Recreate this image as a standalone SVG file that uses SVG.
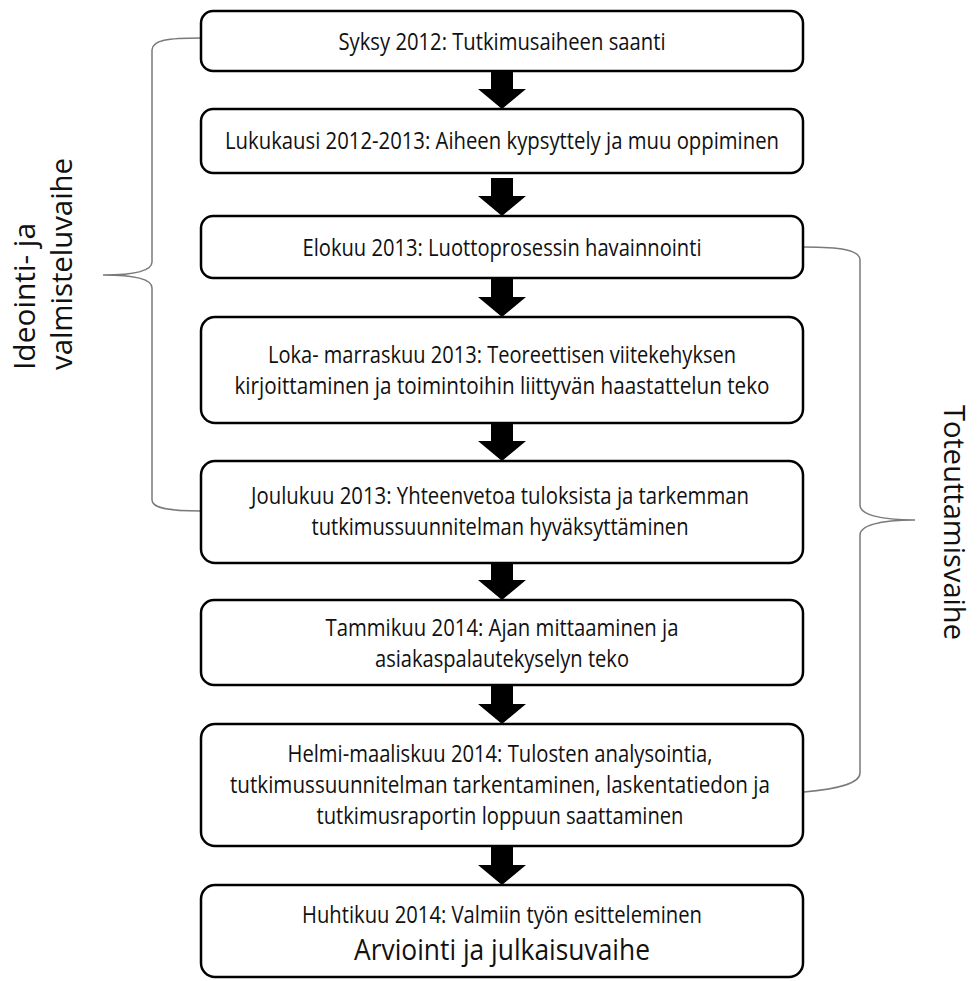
<svg xmlns="http://www.w3.org/2000/svg" width="978" height="981" viewBox="0 0 978 981">
  <style>
    .box { fill: #ffffff; stroke: #000000; stroke-width: 2.5; }
    .txt { font-family: "Open Sans", "Noto Sans", "Liberation Sans", sans-serif; font-size: 23px; fill: #111111; text-anchor: middle; }
    .big { font-size: 29px; }
    .side { font-family: "Open Sans", "Noto Sans", "Liberation Sans", sans-serif; font-size: 29px; fill: #111111; }
    .brace { fill: none; stroke: #7a7a7a; stroke-width: 1.5; }
    .arrow { fill: #000000; }
  </style>
  <defs>
    <!-- thick block arrow, 38px tall, tip at (0,0) -->
    <path id="blk" d="M -11 -38 L 11 -38 L 11 -20 L 24 -20 L 0 0 L -24 -20 L -11 -20 Z"/>
  </defs>

  <rect width="978" height="981" fill="#ffffff"/>

  <!-- connectors between steps -->
  <g id="connectors" class="arrow">
    <use href="#blk" x="502" y="109"/>
    <use href="#blk" x="502" y="216"/>
    <use href="#blk" x="502" y="317"/>
    <use href="#blk" x="502" y="461"/>
    <use href="#blk" x="502" y="600"/>
    <use href="#blk" x="502" y="724"/>
    <use href="#blk" x="502" y="885"/>
  </g>

  <!-- phase braces -->
  <g id="braces">
    <path class="brace" d="M 201 38 C 168 38 152 40 152 50 L 152 262 C 152 270 138 275 103 275 C 138 275 152 280 152 288 L 152 500 C 152 508 168 511 201 511"/>
    <path class="brace" d="M 804 247 C 840 247 860 250 860 260 L 860 505 C 860 514 878 520 915 520 C 878 520 860 526 860 535 L 860 773 C 860 784 836 789 804 792"/>
  </g>

  <g id="step1">
    <rect class="box" x="201" y="11" width="602" height="60" rx="12"/>
    <text class="txt" x="502" y="50" textLength="327" lengthAdjust="spacingAndGlyphs">Syksy 2012: Tutkimusaiheen saanti</text>
  </g>
  <g id="step2">
    <rect class="box" x="201" y="109" width="602" height="64" rx="12"/>
    <text class="txt" x="502" y="149" textLength="554" lengthAdjust="spacingAndGlyphs">Lukukausi 2012-2013: Aiheen kypsyttely ja muu oppiminen</text>
  </g>
  <g id="step3">
    <rect class="box" x="201" y="216" width="602" height="62" rx="12"/>
    <text class="txt" x="502" y="256" textLength="399" lengthAdjust="spacingAndGlyphs">Elokuu 2013: Luottoprosessin havainnointi</text>
  </g>
  <g id="step4">
    <rect class="box" x="201" y="317" width="602" height="106" rx="14"/>
    <text class="txt" x="502" y="363" textLength="468" lengthAdjust="spacingAndGlyphs">Loka- marraskuu 2013: Teoreettisen viitekehyksen</text>
    <text class="txt" x="502" y="394" textLength="535" lengthAdjust="spacingAndGlyphs">kirjoittaminen ja toimintoihin liittyvän haastattelun teko</text>
  </g>
  <g id="step5">
    <rect class="box" x="201" y="461" width="602" height="102" rx="14"/>
    <text class="txt" x="500" y="504" textLength="498" lengthAdjust="spacingAndGlyphs">Joulukuu 2013: Yhteenvetoa tuloksista ja tarkemman</text>
    <text class="txt" x="500" y="535" textLength="377" lengthAdjust="spacingAndGlyphs">tutkimussuunnitelman hyväksyttäminen</text>
  </g>
  <g id="step6">
    <rect class="box" x="201" y="600" width="602" height="85" rx="13"/>
    <text class="txt" x="502" y="636" textLength="353" lengthAdjust="spacingAndGlyphs">Tammikuu 2014: Ajan mittaaminen ja</text>
    <text class="txt" x="502" y="667" textLength="254" lengthAdjust="spacingAndGlyphs">asiakaspalautekyselyn teko</text>
  </g>
  <g id="step7">
    <rect class="box" x="201" y="724" width="602" height="122" rx="14"/>
    <text class="txt" x="500" y="762" textLength="425" lengthAdjust="spacingAndGlyphs">Helmi-maaliskuu 2014: Tulosten analysointia,</text>
    <text class="txt" x="500" y="793" textLength="540" lengthAdjust="spacingAndGlyphs">tutkimussuunnitelman tarkentaminen, laskentatiedon ja</text>
    <text class="txt" x="500" y="824" textLength="367" lengthAdjust="spacingAndGlyphs">tutkimusraportin loppuun saattaminen</text>
  </g>
  <g id="step8">
    <rect class="box" x="201" y="885" width="602" height="92" rx="14"/>
    <text class="txt" x="502" y="923" textLength="400" lengthAdjust="spacingAndGlyphs">Huhtikuu 2014: Valmiin työn esitteleminen</text>
    <text class="txt big" x="502" y="960" textLength="296" lengthAdjust="spacingAndGlyphs">Arviointi ja julkaisuvaihe</text>
  </g>

  <!-- phase labels -->
  <g id="label-ideointi">
    <text class="side" transform="translate(35,370) rotate(-90)" textLength="147" lengthAdjust="spacingAndGlyphs">Ideointi- ja</text>
    <text class="side" transform="translate(72,370) rotate(-90)" textLength="212" lengthAdjust="spacingAndGlyphs">valmisteluvaihe</text>
  </g>
  <g id="label-toteuttamis">
    <text class="side" transform="translate(944,405) rotate(90)" textLength="235" lengthAdjust="spacingAndGlyphs">Toteuttamisvaihe</text>
  </g>
</svg>
